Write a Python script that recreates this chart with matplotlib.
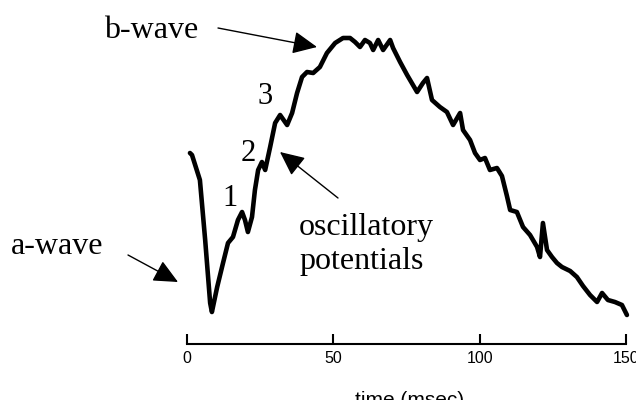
import numpy as np
import matplotlib
matplotlib.use("Agg")
import matplotlib.pyplot as plt

# ERG trace (time in msec, amplitude in arbitrary uV)
time_ms = [1.0, 1.7, 4.4, 6.2, 7.9, 8.5, 10.3, 12.3, 14.0, 15.7, 17.4, 18.8, 19.8,
           20.8, 22.2, 23.2, 24.3, 25.6, 26.7, 28.4, 30.1, 31.8, 34.2, 35.9, 37.6,
           39.3, 41.0, 43.1, 45.4, 47.8, 50.6, 53.3, 55.7, 57.4, 59.1, 60.8, 62.5,
           63.6, 65.3, 67.0, 69.4, 70.4, 72.8, 75.2, 77.2, 78.6, 80.6, 82.0, 83.7,
           86.4, 88.8, 90.9, 93.3, 94.3, 96.7, 98.4, 100.1, 101.8, 103.5, 105.9,
           107.6, 109.3, 110.4, 112.7, 114.8, 117.2, 119.6, 120.6, 121.6, 123.0,
           124.7, 126.4, 128.1, 130.9, 133.2, 135.3, 137.7, 140.1, 141.8, 143.8,
           146.2, 148.6, 150.3]
amplitude = [4, 0, -50, -170, -296, -314, -264, -216, -176, -164, -130, -114, -130,
             -154, -124, -70, -30, -14, -30, 16, 64, 80, 60, 84, 124,
             156, 166, 164, 176, 204, 224, 234, 234, 226, 216, 230, 224,
             210, 230, 210, 230, 214, 186, 160, 140, 126, 144, 154, 110,
             96, 86, 60, 84, 50, 30, 4, -10, -6, -30, -26,
             -42, -82, -110, -114, -144, -160, -184, -204, -136, -190,
             -204, -216, -224, -232, -244, -262, -280, -294, -276, -290,
             -294, -300, -320]
xticks = [0, 50, 100, 150]

plt.rcParams['font.family'] = ['Liberation Serif', 'DejaVu Serif']

fig = plt.figure(figsize=(6.36, 4.0), dpi=100)
ax = fig.add_axes([0, 0, 1, 1])
ax.plot(time_ms, amplitude, color='black', lw=3.3, solid_joinstyle='round',
        solid_capstyle='round', clip_on=False)

ax.set_xlim(-63.9, 153.4)
ax.set_ylim(-490, 310)

for s in ['top', 'right', 'left']:
    ax.spines[s].set_visible(False)
ax.spines['bottom'].set_position(('data', -378))
ax.spines['bottom'].set_bounds(0, 150)
ax.spines['bottom'].set_linewidth(1.5)
ax.set_xticks(xticks)
ax.tick_params(axis='x', direction='in', length=7, width=1.5, pad=5, labelsize=11.5)
for lab in ax.get_xticklabels():
    lab.set_family('Liberation Sans')
ax.set_yticks([])
ax.patch.set_alpha(0)


def px(x, y):
    return (x / 636, 1 - y / 400)


arrow = dict(arrowstyle='-|>,head_length=0.75,head_width=0.35', color='black',
             lw=1.0, mutation_scale=20, shrinkA=0, shrinkB=0)
fs = 23
ax.annotate('', xy=px(317, 47), xytext=px(218, 28), xycoords='figure fraction',
            textcoords='figure fraction', arrowprops=arrow)
ax.annotate('', xy=px(178, 282), xytext=px(128, 255), xycoords='figure fraction',
            textcoords='figure fraction', arrowprops=arrow)
ax.annotate('', xy=px(280, 152), xytext=px(338, 198), xycoords='figure fraction',
            textcoords='figure fraction', arrowprops=arrow)

fig.text(*px(104, 38), 'b-wave', fontsize=fs, va='baseline', ha='left')
fig.text(*px(11, 254), 'a-wave', fontsize=fs, va='baseline', ha='left')
fig.text(*px(299, 235), 'oscillatory', fontsize=fs, va='baseline', ha='left')
fig.text(*px(299, 269), 'potentials', fontsize=fs, va='baseline', ha='left')
fig.text(*px(230, 198), '1', fontsize=22, va='center', ha='center')
fig.text(*px(248, 153), '2', fontsize=22, va='center', ha='center')
fig.text(*px(265, 97), '3', fontsize=22, va='center', ha='center')
fig.text(*px(410, 406), 'time (msec)', fontsize=15, va='baseline', ha='center',
         family='Liberation Sans')

fig.savefig('out.png', dpi=100)
